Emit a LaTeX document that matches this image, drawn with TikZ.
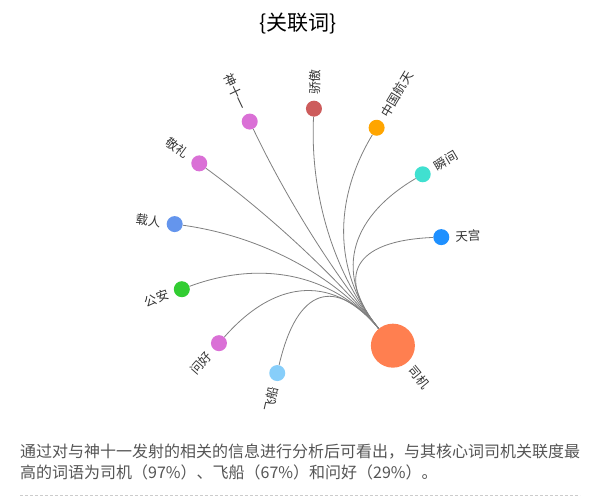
\documentclass[tikz,border=0pt]{standalone}
\usepackage{fontspec}
\newfontfamily\cjk{Noto Sans CJK SC}
\usetikzlibrary{calc}
\definecolor{cCoral}{HTML}{FF7F50}
\definecolor{cSky}{HTML}{87CEFA}
\definecolor{cOrchid}{HTML}{DA70D6}
\definecolor{cLime}{HTML}{32CD32}
\definecolor{cCorn}{HTML}{6495ED}
\definecolor{cIndian}{HTML}{CD5C5C}
\definecolor{cOrange}{HTML}{FFA500}
\definecolor{cTurq}{HTML}{40E0D0}
\definecolor{cDodger}{HTML}{1E90FF}
\definecolor{lblgray}{HTML}{333333}
\definecolor{linkgray}{HTML}{808080}
\definecolor{txtgray}{HTML}{555555}
\definecolor{dashgray}{HTML}{CCCCCC}
\begin{document}
\begin{tikzpicture}[x=1pt,y=-1pt,
  dot/.style={circle,inner sep=0pt,minimum size=16pt},
  hubdot/.style={circle,inner sep=0pt,minimum size=44pt,fill=cCoral},
  lbl/.style={inner sep=0pt,font=\cjk\fontsize{12.5}{12.5}\selectfont,text=lblgray},
  link/.style={draw=linkgray,line width=0.8pt},
  para/.style={anchor=base west,inner sep=0pt,font=\cjk\fontsize{16}{16}\selectfont,text=txtgray}]
\useasboundingbox[fill=white] (0,0) rectangle (598,504);
\coordinate (C) at (307.4,242.5);
% title
\node[inner sep=0pt,font=\cjk\fontsize{21}{21}\selectfont,text=black] (title) at (298,24) {\{关联词\}};
% nodes
\node[hubdot] (siji) at ($(C)+(-50.35:134pt)$) {};
\node[dot,fill=cDodger] (tiangong) at ($(C)+(2.3:134pt)$) {};
\node[dot,fill=cTurq] (shunjian) at ($(C)+(30.6:134pt)$) {};
\node[dot,fill=cOrange] (zhongguo) at ($(C)+(58.9:134pt)$) {};
\node[dot,fill=cIndian] (jiaoao) at ($(C)+(87.2:134pt)$) {};
\node[dot,fill=cOrchid] (shenshiyi) at ($(C)+(115.5:134pt)$) {};
\node[dot,fill=cOrchid] (jingli) at ($(C)+(143.8:134pt)$) {};
\node[dot,fill=cCorn] (zairen) at ($(C)+(172.1:134pt)$) {};
\node[dot,fill=cLime] (gongan) at ($(C)+(200.4:134pt)$) {};
\node[dot,fill=cOrchid] (wenhao) at ($(C)+(228.7:134pt)$) {};
\node[dot,fill=cSky] (feichuan) at ($(C)+(257.0:134pt)$) {};
% labels
\node[lbl,anchor=west,rotate=-50.35] (l-siji) at ($(siji)+(-50.35:28pt)$) {司机};
\node[lbl,anchor=west,rotate=2.3] (l-tiangong) at ($(tiangong)+(2.3:14pt)$) {天宫};
\node[lbl,anchor=west,rotate=30.6] (l-shunjian) at ($(shunjian)+(30.6:14pt)$) {瞬间};
\node[lbl,anchor=west,rotate=58.9] (l-zhongguo) at ($(zhongguo)+(58.9:14pt)$) {中国航天};
\node[lbl,anchor=west,rotate=87.2] (l-jiaoao) at ($(jiaoao)+(87.2:14pt)$) {骄傲};
\node[lbl,anchor=east,rotate=-64.5] (l-shenshiyi) at ($(shenshiyi)+(115.5:14pt)$) {神十一};
\node[lbl,anchor=east,rotate=-36.2] (l-jingli) at ($(jingli)+(143.8:14pt)$) {敬礼};
\node[lbl,anchor=east,rotate=-7.9] (l-zairen) at ($(zairen)+(172.1:14pt)$) {载人};
\node[lbl,anchor=east,rotate=20.4] (l-gongan) at ($(gongan)+(200.4:14pt)$) {公安};
\node[lbl,anchor=east,rotate=48.7] (l-wenhao) at ($(wenhao)+(228.7:14pt)$) {问好};
\node[lbl,anchor=east,rotate=77.0] (l-feichuan) at ($(feichuan)+(257.0:14pt)$) {飞船};
% links (quadratic curves with control point at the layout centre)
\foreach \n in {tiangong,shunjian,zhongguo,jiaoao,shenshiyi,jingli,zairen,gongan,wenhao,feichuan}{
  \draw[link] (\n) .. controls ($(\n)!2/3!(C)$) and ($(siji)!2/3!(C)$) .. (siji);
}
% paragraph
\node[para] (p1) at (20,457) {通过对与神十一发射的相关的信息进行分析后可看出，与其核心词司机关联度最};
\node[para] (p2) at (20,478) {高的词语为司机（97\%）、飞船（67\%）和问好（29\%）。};
\coordinate (d1) at (20,495);
\coordinate (d2) at (580,495);
\draw[dashgray,line width=0.8pt,dash pattern=on 3pt off 2pt] (d1) -- (d2);
\end{tikzpicture}
\end{document}
